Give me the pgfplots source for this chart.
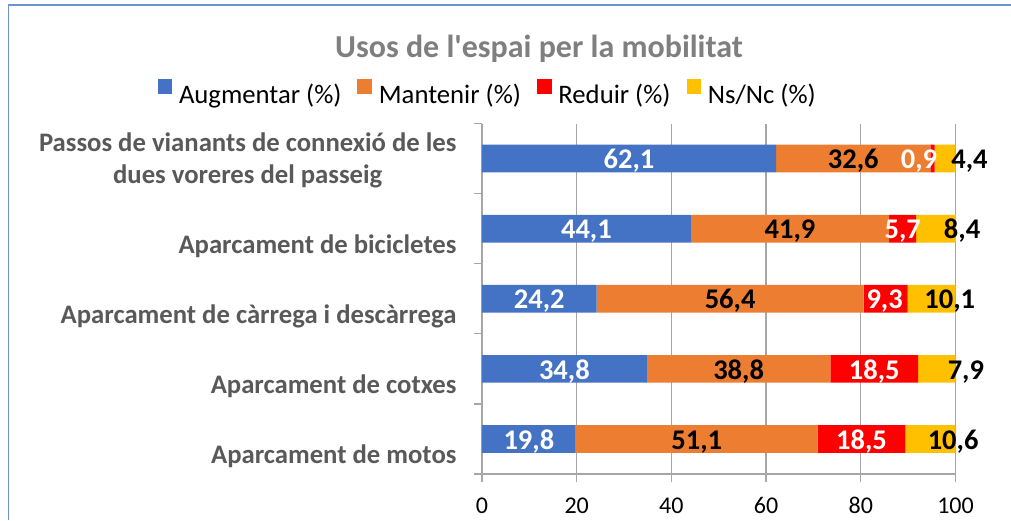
\documentclass[border=0pt]{standalone}
\usepackage{fontspec}
\setmainfont{Carlito}
\usepackage{pgfplots}
\usepackage{pgfplotstable}
\pgfplotsset{compat=1.18}
\definecolor{cblue}{HTML}{4472C4}
\definecolor{corange}{HTML}{ED7D31}
\definecolor{cred}{HTML}{FF0000}
\definecolor{cyellow}{HTML}{FFC000}
\definecolor{cgrid}{HTML}{A6A6A6}
\definecolor{clabel}{HTML}{595959}
\definecolor{ctitle}{HTML}{7F7F7F}
\definecolor{cframe}{RGB}{110,145,210}

% dxr, dxn: horizontal offsets (pt) of the Reduir and Ns/Nc data labels
\pgfplotstableread{
y aug man red ns dxr dxn
4 62.1 32.6 0.9 4.4 -13.5 24.4
3 44.1 41.9 5.7 8.4 0 26.0
2 24.2 56.4 9.3 10.1 -1 18.2
1 34.8 38.8 18.5 7.9 0 29.1
0 19.8 51.1 18.5 10.6 0 22.7
}\data

\pgfplotsset{
  sq legend/.style={legend image code/.code={\fill[##1] (0pt,0.3pt) rectangle (14.7pt,15pt);}},
  lbl/.style={
    nodes near coords={\pgfmathprintnumber[fixed, fixed zerofill, precision=1, use comma]{\pgfplotspointmeta}},
    point meta=explicit,
    every node near coord/.append style={anchor=base, yshift=-10.2pt, inner sep=0pt,
      font=\bfseries\fontsize{28.5}{34}\selectfont, text=#1}},
}

\begin{document}
\begin{tikzpicture}
\begin{axis}[
  scale only axis, width=473.97pt, height=350.5pt,
  xbar stacked, bar width=27.7pt,
  xmin=0, xmax=100.1, ymin=-0.5, ymax=4.5,
  axis lines*=left,
  axis line style={cgrid, line width=1.2pt},
  xtick={0,20,...,100},
  minor xtick={0,20,...,100},
  ytick={0,1,2,3,4},
  minor ytick={-0.5,0.5,1.5,2.5,3.5,4.5},
  tick align=outside, major tick length=0pt, minor tick length=8pt,
  tick style={cgrid, line width=1.2pt},
  xmajorgrids, grid style={cgrid, line width=1.2pt},
  /pgf/number format/assume math mode=true,
  xticklabel style={anchor=base, yshift=-39.5pt, font=\fontsize{24}{28}\selectfont, text=black},
  yticklabels={{Aparcament de motos},{Aparcament de cotxes},{Aparcament de càrrega i descàrrega},{Aparcament de bicicletes},{\begin{tabular}[b]{@{}c@{}}Passos de vianants de connexió de les\\dues voreres del passeig\end{tabular}}},
  yticklabel style={anchor=base east, inner sep=0pt, xshift=-25.3pt, yshift=-25pt, font=\bfseries\fontsize{26.7}{31.6}\selectfont, text=clabel},
  title={Usos de l\textquotesingle espai per la mobilitat},
  title style={at={(0.1203,1.1726)}, anchor=base, font=\bfseries\fontsize{32}{38}\selectfont, text=ctitle, inner sep=0pt},
  legend columns=4,
  legend style={draw=none, fill=none, at={(0.0099,1.0900)}, anchor=center, inner sep=0pt,
    font=\fontsize{26.7}{32}\selectfont,
    nodes={inner sep=0pt},
    /tikz/every odd column/.append style={column sep=6.7pt},
    /tikz/every even column/.append style={column sep=16pt}},
]
\addplot[fill=cblue, draw=none, sq legend, lbl=white] table[x=aug, y=y, meta=aug]{\data};
\addlegendentry{Augmentar (\%)}
\addplot[fill=corange, draw=none, sq legend, lbl=black] table[x=man, y=y, meta=man]{\data};
\addlegendentry{Mantenir (\%)}
\addplot[fill=cred, draw=none, sq legend, lbl=white,
  visualization depends on={\thisrow{dxr} \as \dxr},
  every node near coord/.append style={xshift=\dxr pt}] table[x=red, y=y, meta=red]{\data};
\addlegendentry{Reduir (\%)}
\addplot[fill=cyellow, draw=none, sq legend, lbl=black,
  visualization depends on={\thisrow{dxn} \as \dxn},
  every node near coord/.append style={xshift=\dxn pt}] table[x=ns, y=y, meta=ns]{\data};
\addlegendentry{Ns/Nc (\%)}
\end{axis}
\pgfresetboundingbox
\useasboundingbox (-482pt,-46pt) rectangle (529pt,474pt);
\draw[cframe, line width=1.5pt] (-473.3pt,-46pt) -- (-473.3pt,469pt) -- (529pt,469pt);
\end{tikzpicture}
\end{document}
